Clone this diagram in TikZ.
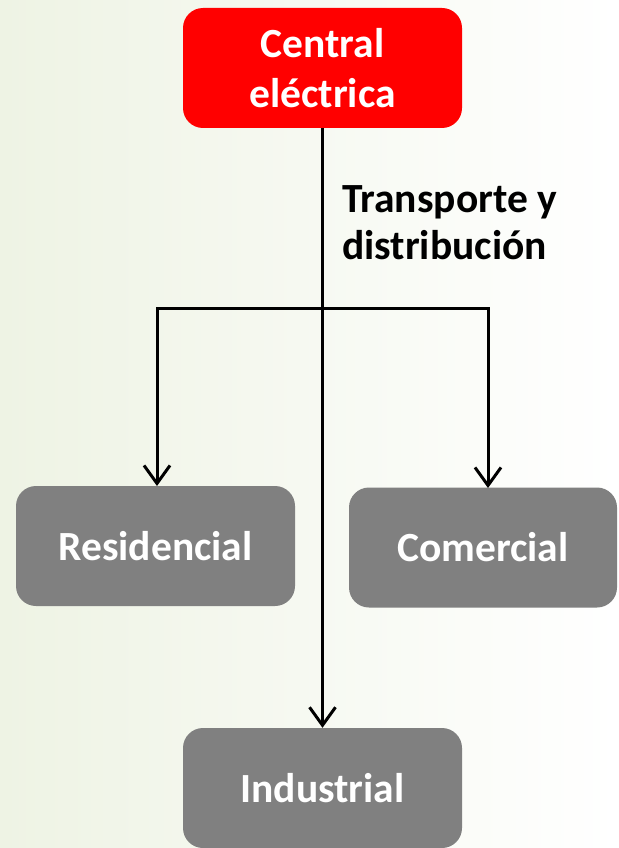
\documentclass[tikz,border=0pt]{standalone}
\usepackage{fontspec}
\setmainfont{Carlito}
\usetikzlibrary{arrows.meta}
\definecolor{bgleft}{RGB}{238,243,228}
\definecolor{boxred}{RGB}{255,0,0}
\definecolor{boxgray}{RGB}{128,128,128}
\tikzset{
  box/.style={rounded corners=20pt, minimum width=279pt, minimum height=120pt, inner sep=0pt,
    align=center, text=white, font=\fontsize{41.5}{50}\selectfont\bfseries},
  redbox/.style={box, fill=boxred},
  graybox/.style={box, fill=boxgray},
  conn/.style={line width=3pt, draw=black},
  arr/.style={conn, -{Straight Barb[length=18pt,width=26pt,line width=3pt]}},
  lbl/.style={anchor=west, align=left, inner sep=0pt, font=\fontsize{41.5}{47}\selectfont\bfseries}
}
\begin{document}
\begin{tikzpicture}[x=1pt,y=-1pt]
\shade[left color=bgleft, right color=white] (0,0) rectangle (618,848);
\useasboundingbox (0,0) rectangle (618,848);
\node[redbox] (central) at (322.5,68) {Central\\eléctrica};
\node[graybox] (res) at (155.5,546) {Residencial};
\node[graybox, minimum width=268pt] (com) at (483,547.5) {Comercial};
\node[graybox] (ind) at (322.5,788) {Industrial};
\node[lbl] (label) at (342,223) {Transporte y\\distribución};
\coordinate (split) at (322.5,308);
\coordinate (resin) at (157,486);
\coordinate (comin) at (488,488);
\draw[arr] (central.south) -- (ind.north);
\draw[arr] (split) -| (resin);
\draw[arr] (split) -| (comin);
\end{tikzpicture}
\end{document}
